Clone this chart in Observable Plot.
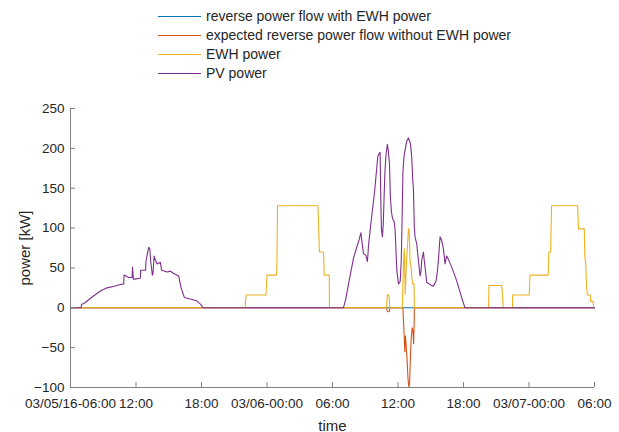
<!DOCTYPE html>
<html><head><meta charset="utf-8">
<script src="https://cdn.jsdelivr.net/npm/d3@7"></script>
<script src="https://cdn.jsdelivr.net/npm/@observablehq/plot@0.6"></script>
<style>
body{margin:0;background:#fff;font-family:"Liberation Sans",Arial,sans-serif;}
#wrap{width:619px;height:432px;position:relative;overflow:hidden;background:#fff}
#legend{position:relative;height:90px;width:619px}
.row{position:absolute;left:158px;height:19px;display:flex;align-items:center;font-size:14px;color:#262626;white-space:nowrap}
.sw{display:inline-block;width:43px;height:0;border-top:1.3px solid;margin-right:5px}
#chart svg{display:block}
</style></head>
<body><div id="wrap"><div id="legend"></div><div id="chart"></div></div>
<script>
// ---- data (x in hours since 03/05/16 06:00, y in kW) ----
const seriesNames = ["reverse power flow with EWH power", "expected reverse power flow without EWH power", "EWH power", "PV power"];
const seriesColors = ["#0072BD", "#D95319", "#EDB120", "#7E2F8E"];

const xTickValues = [0, 6, 12, 18, 24, 30, 36, 42, 48];
const xTickLabels = ["03/05/16-06:00", "12:00", "18:00", "03/06-00:00", "06:00", "12:00", "18:00", "03/07-00:00", "06:00"];
const yTickValues = [-100, -50, 0, 50, 100, 150, 200, 250];

const revHours = [0, 48];
const revKW = [0, 0];

const expHours = [0, 28.95, 29.0, 29.1, 29.2, 29.27, 30.45, 30.5, 30.58, 30.62, 30.68, 30.74, 30.83, 30.92, 31.0, 31.06, 31.12, 31.2, 31.3, 31.38, 31.43, 31.48, 31.5, 48];
const expKW = [0, 0, -3, -5, -5, 0, 0, -15, -40, -55, -35, -45, -65, -90, -100, -95, -70, -40, -25, -30, -45, -20, 0, 0];

const ewhHours = [0, 16.0, 16.05, 16.12, 17.9, 17.93, 18.0, 18.85, 18.9, 18.97, 22.66, 22.7, 22.8, 23.18, 23.24, 23.7, 23.72,
  28.95, 29.0, 29.07, 29.18, 29.25,
  30.4, 30.45, 30.5, 30.58, 30.63, 30.66, 30.7, 30.74, 30.8, 30.9, 30.95, 31.0, 31.04, 31.1, 31.2, 31.26, 31.35, 31.47, 31.5,
  38.3, 38.33, 39.5, 39.55, 39.64, 40.48, 40.5, 42.02, 42.09, 43.76, 43.82, 43.98, 44.02, 44.07, 46.45, 46.54, 47.06, 47.12, 47.2, 47.27, 47.35, 47.62, 47.65, 47.87, 47.93, 48];
const ewhKW = [0, 0, 12, 16, 16, 22, 41, 41, 48, 128, 128, 116, 70, 70, 41, 41, 0,
  0, 12, 17, 15, 0,
  0, 30, 55, 74, 40, 17, 30, 46, 63, 84, 99, 99, 93, 59, 51, 38, 30, 30, 0,
  0, 28, 28, 21, 0, 0, 16, 16, 41, 41, 70, 70, 99, 128, 128, 99, 99, 63, 55, 27, 16, 16, 8, 8, 0, 0];

const pvHours = [0, 0.98, 1.0, 1.3, 1.98, 2.74, 3.35, 4.0, 4.5, 4.88, 4.9, 5.34, 5.64, 5.68, 5.76, 5.85, 6.4, 6.42, 6.87, 6.92, 7.1, 7.17, 7.26, 7.35, 7.5, 7.56, 7.66, 7.72, 7.93, 8.23, 8.35, 8.85, 9.15, 9.45, 9.91, 10.13, 10.43, 11.13, 11.59, 11.95, 12.14,
  25.0, 25.2, 25.47, 25.92, 26.2, 26.45, 26.6, 26.69, 26.84, 27.05, 27.2, 27.3, 27.5, 27.75, 27.9, 28.05, 28.15, 28.25, 28.36, 28.42, 28.48, 28.57, 28.65, 28.7, 28.8, 28.9, 29.03, 29.12, 29.22, 29.3, 29.4, 29.5, 29.65, 29.74, 29.85, 29.9, 30.05, 30.2, 30.3, 30.35, 30.45, 30.55, 30.65, 30.8, 30.95, 31.05, 31.15, 31.26, 31.35, 31.41, 31.5, 31.56, 31.72, 31.87, 32.02, 32.1, 32.17, 32.33, 32.4, 32.48, 32.63, 32.94, 33.24, 33.49, 33.6, 33.7, 33.85, 34.01, 34.16, 34.31, 34.46, 34.61, 34.92, 35.37, 35.83, 36.13, 48];
const pvKW = [0, 0, 4, 6, 13.5, 21, 25, 27, 29, 30, 41, 38, 38, 51, 36, 36, 37, 47, 47, 59, 72, 76, 74, 58, 41, 43, 65, 62, 55, 57, 47, 45, 46, 43, 40, 25, 13, 10.5, 8.4, 4, 0,
  0, 10, 30, 62, 75, 86, 94, 84, 68, 66, 58, 78, 104, 133, 152, 175, 190, 193, 195, 140, 100, 89, 105, 127, 170, 192, 205, 196, 180, 139, 120, 112, 108, 97, 60, 46, 30, 33, 60, 93, 170, 190, 198, 209, 213, 210, 205, 188, 160, 150, 100, 89, 80, 59, 40, 45, 59, 70, 60, 51, 32, 29, 27, 34, 45, 59, 89, 84, 74, 55, 65, 61, 51, 34, 13, 0, 0];

// ---- build tables ----
const toRows = (hs, vs) => hs.map((h, i) => ({h, p: vs[i]}));
const revData = toRows(revHours, revKW);
const expData = toRows(expHours, expKW);
const ewhData = toRows(ewhHours, ewhKW);
const pvData = toRows(pvHours, pvKW);

// ---- legend ----
const legend = document.getElementById("legend");
const rowCenters = [16, 35, 54, 73];
seriesNames.forEach((name, i) => {
  const r = document.createElement("div");
  r.className = "row";
  r.style.top = (rowCenters[i] - 9.5) + "px";
  const sw = document.createElement("span");
  sw.className = "sw";
  sw.style.borderTopColor = seriesColors[i];
  const t = document.createElement("span");
  t.textContent = name;
  r.appendChild(sw); r.appendChild(t);
  legend.appendChild(r);
});

const axisColor = "#808080";
const lw = 1.1;
const chart = Plot.plot({
  width: 619, height: 342,
  marginTop: 18, marginBottom: 45, marginLeft: 70, marginRight: 25,
  style: {fontFamily: '"Liberation Sans", Arial, sans-serif', fontSize: "13.5px", color: "#262626", background: "#fff", overflow: "visible"},
  x: {domain: [0, 48]},
  y: {domain: [-100, 250]},
  marks: [
    Plot.line(revData, {x: "h", y: "p", stroke: seriesColors[0], strokeWidth: lw}),
    Plot.line(expData, {x: "h", y: "p", stroke: seriesColors[1], strokeWidth: lw}),
    Plot.line(ewhData, {x: "h", y: "p", stroke: seriesColors[2], strokeWidth: lw}),
    Plot.line(pvData, {x: "h", y: "p", stroke: seriesColors[3], strokeWidth: lw}),
    Plot.ruleX([0], {stroke: axisColor}),
    Plot.ruleY([-100], {stroke: axisColor}),
    Plot.axisX(xTickValues, {tickSize: 5, dy: -5, stroke: axisColor, tickFormat: () => "", label: null}),
    Plot.axisX(xTickValues, {tickSize: 0, tickPadding: 11, tickFormat: d => xTickLabels[xTickValues.indexOf(d)], label: null, fontSize: 13.5}),
    Plot.axisX(xTickValues, {tickSize: 0, tickFormat: () => "", label: "time", labelAnchor: "center", labelArrow: "none", labelOffset: 43, fontSize: 15}),
    Plot.axisY(yTickValues, {tickSize: 5, dx: 5, stroke: axisColor, tickFormat: () => "", label: null}),
    Plot.axisY(yTickValues, {tickSize: 0, tickPadding: 6, label: null, fontSize: 13.5}),
    Plot.axisY(yTickValues, {tickSize: 0, tickFormat: () => "", label: "power [kW]", labelAnchor: "center", labelArrow: "none", labelOffset: 51, fontSize: 15})
  ]
});
document.getElementById("chart").appendChild(chart);
</script>
</body></html>
